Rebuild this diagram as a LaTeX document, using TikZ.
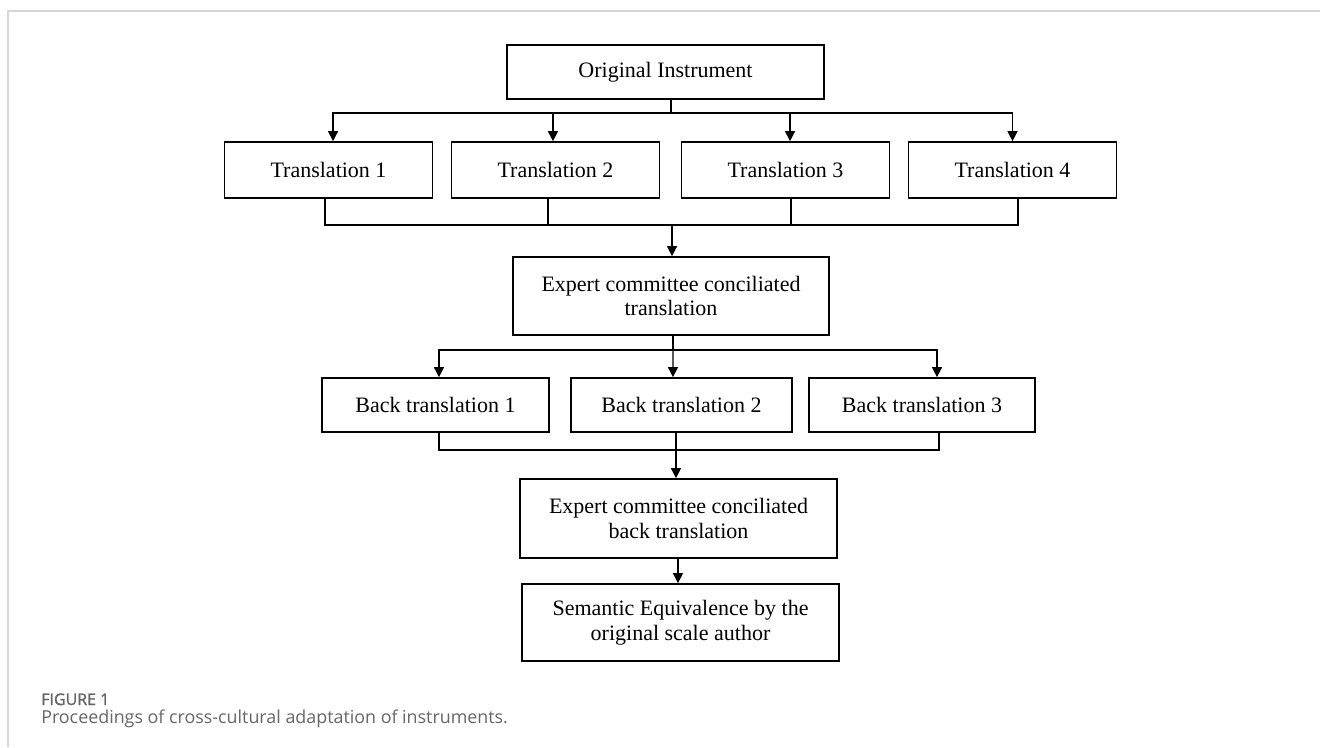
\documentclass[tikz,border=0pt]{standalone}
\usepackage{fontspec}
\setmainfont{Liberation Serif}
\newfontfamily\capfont{Open Sans}
\newfontfamily\capboldfont[FakeBold=1.5]{Open Sans}
\usetikzlibrary{arrows.meta}
\definecolor{framegray}{HTML}{D6D6D6}
\definecolor{capgray}{HTML}{666666}
\begin{document}
\begin{tikzpicture}[x=0.75pt,y=-0.75pt,
  box/.style={draw,line width=1.3pt,inner sep=0pt,align=center,fill=white,
    font=\fontsize{16.5}{18.4}\selectfont},
  conn/.style={line width=1.1pt},
  arr/.style={line width=1.1pt,-{Triangle[length=7.5pt,width=7.5pt]}},
  captxt/.style={anchor=base west,inner sep=0pt,text=capgray}]
\useasboundingbox (0,0) rectangle (1320,747);
% page frame
\draw[framegray,line width=0.8pt] (8,747) -- (8,11) -- (1320,11);

% nodes
\node[box,minimum width=237.75pt,minimum height=40.5pt] (orig) at (665.5,72) {Original Instrument};
\node[box,minimum width=156pt,minimum height=42pt] (t1) at (328.5,170) {Translation 1};
\node[box,minimum width=156pt,minimum height=42pt] (t2) at (555.5,170) {Translation 2};
\node[box,minimum width=156pt,minimum height=42pt] (t3) at (785.5,170) {Translation 3};
\node[box,minimum width=156pt,minimum height=42pt] (t4) at (1012.5,170) {Translation 4};
\node[box,minimum width=237pt,minimum height=58.5pt] (exp1) at (671,296) {Expert committee conciliated\\translation};
\node[box,minimum width=170.25pt,minimum height=40.5pt] (bt1) at (435.5,405) {Back translation 1};
\node[box,minimum width=165.75pt,minimum height=40.5pt] (bt2) at (681.5,405) {Back translation 2};
\node[box,minimum width=169.5pt,minimum height=40.5pt] (bt3) at (922,405) {Back translation 3};
\node[box,minimum width=237.75pt,minimum height=59.25pt] (exp2) at (678.5,518.5) {Expert committee conciliated\\back translation};
\node[box,minimum width=237.75pt,minimum height=57.75pt] (sem) at (680.5,622.5) {Semantic Equivalence by the\\original scale author};

% bus coordinates
\coordinate (busA) at (0,113);
\coordinate (busB) at (0,225);
\coordinate (busC) at (0,350);
\coordinate (busD) at (0,450);

% original -> translations
\draw[conn] ([xshift=4pt]orig.south) -- ([xshift=4pt]orig.south |- busA);
\draw[arr] ([xshift=4pt]orig.south |- busA) -| ([xshift=3.4pt]t1.north);
\draw[arr] ([xshift=-1.9pt]t2.north |- busA) -- ([xshift=-1.9pt]t2.north);
\draw[arr] ([xshift=3.4pt]t3.north |- busA) -- ([xshift=3.4pt]t3.north);
\draw[arr] ([xshift=4pt]orig.south |- busA) -| (t4.north);

% translations -> expert committee
\draw[conn] ([xshift=-2.6pt]t1.south) |- ([xshift=4.1pt]t4.south |- busB) -- ([xshift=4.1pt]t4.south);
\draw[conn] ([xshift=-5.6pt]t2.south) -- ([xshift=-5.6pt]t2.south |- busB);
\draw[conn] ([xshift=4.1pt]t3.south) -- ([xshift=4.1pt]t3.south |- busB);
\draw[arr] ([xshift=0.75pt]exp1.north |- busB) -- ([xshift=0.75pt]exp1.north);

% expert committee -> back translations
\draw[conn] ([xshift=1.5pt]exp1.south) -- ([xshift=1.5pt]exp1.south |- busC);
\draw[arr] ([xshift=1.5pt]exp1.south |- busC) -| ([xshift=2.6pt]bt1.north);
\draw[arr] ([xshift=1.5pt]exp1.south |- busC) -| ([xshift=11.25pt]bt3.north);
\draw[arr] ([xshift=1.5pt]exp1.south) -- ([xshift=-6.4pt]bt2.north);

% back translations -> expert committee 2
\draw[conn] ([xshift=2.6pt]bt1.south) |- ([xshift=12.75pt]bt3.south |- busD) -- ([xshift=12.75pt]bt3.south);
\draw[conn] ([xshift=-4.1pt]bt2.south) -- ([xshift=-4.1pt]bt2.south |- busD);
\draw[arr] ([xshift=-1.9pt]exp2.north |- busD) -- ([xshift=-1.9pt]exp2.north);

% expert committee 2 -> semantic equivalence
\draw[arr] ([xshift=-0.4pt]exp2.south) -- ([xshift=-0.4pt]exp2.south |- sem.north);

% caption
\node[captxt,font=\capboldfont\fontsize{12}{14}\selectfont] (fig) at (41,705) {FIGURE 1};
\node[captxt,font=\capfont\fontsize{13.4}{16}\selectfont] (cap) at (41,723) {Proceedings of cross-cultural adaptation of instruments.};
\end{tikzpicture}
\end{document}
